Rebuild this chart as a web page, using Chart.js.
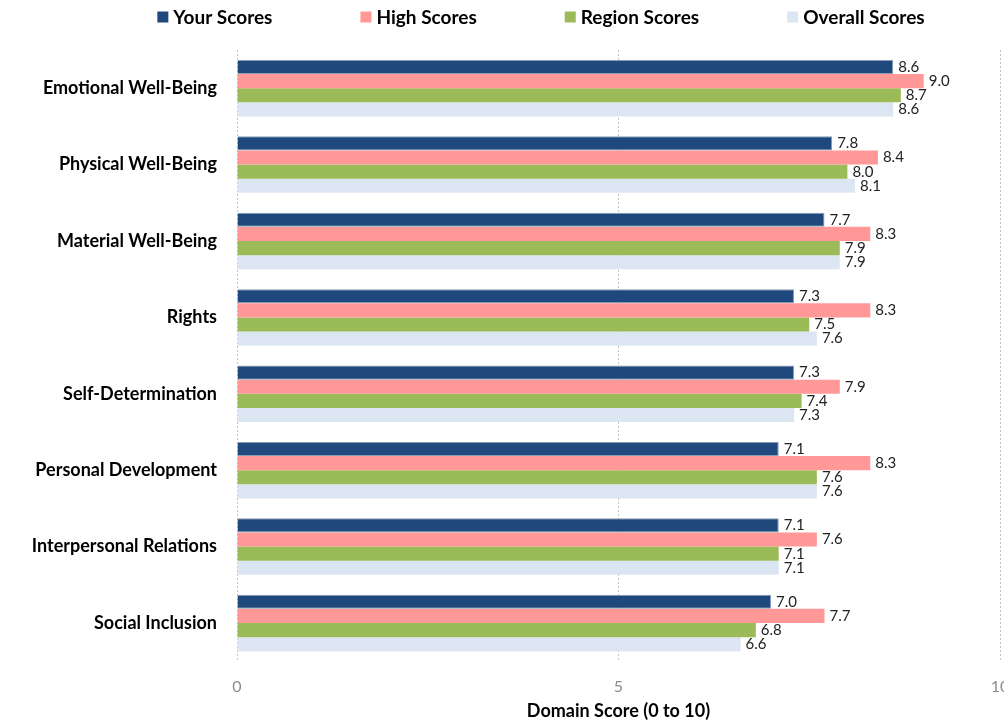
<!DOCTYPE html>
<html>
<head>
<meta charset="utf-8">
<script src="https://cdn.jsdelivr.net/npm/chart.js@4/dist/chart.umd.min.js"></script>
<style>
  html, body { margin: 0; padding: 0; background: #fff; }
  #wrap { width: 1004px; height: 722px; }
</style>
</head>
<body>
<div id="wrap"><canvas id="chart" width="1004" height="722"></canvas></div>
<script>
const domains = ['Emotional Well-Being', 'Physical Well-Being', 'Material Well-Being', 'Rights',
  'Self-Determination', 'Personal Development', 'Interpersonal Relations', 'Social Inclusion'];
const yourScores = [8.6, 7.8, 7.7, 7.3, 7.3, 7.1, 7.1, 7.0];
const highScores = [9.0, 8.4, 8.3, 8.3, 7.9, 8.3, 7.6, 7.7];
const regionScores = [8.7, 8.0, 7.9, 7.5, 7.4, 7.6, 7.1, 6.8];
const overallScores = [8.6, 8.1, 7.9, 7.6, 7.3, 7.6, 7.1, 6.6];
const xTicks = [0, 5, 10];

const FONT = "Lato, 'Open Sans', sans-serif";

// value labels just past the end of each bar
const barLabels = {
  id: 'barLabels',
  afterDatasetsDraw(chart) {
    const ctx = chart.ctx;
    ctx.save();
    ctx.font = '15px ' + FONT;
    ctx.fillStyle = '#222';
    ctx.textBaseline = 'middle';
    ctx.textAlign = 'left';
    chart.data.datasets.forEach((ds, i) => {
      chart.getDatasetMeta(i).data.forEach((bar, j) => {
        ctx.fillText(ds.data[j].toFixed(1), bar.x + 5, bar.y);
      });
    });
    ctx.restore();
  }
};

// legend row across the top, wide gaps between items
const topLegend = {
  id: 'topLegend',
  afterDraw(chart) {
    const ctx = chart.ctx;
    const box = 11, gap = 5, spacing = 88, y = 17;
    ctx.save();
    ctx.font = 'bold 19px ' + FONT;
    ctx.textBaseline = 'middle';
    const items = chart.data.datasets.map(ds => ({ ds, w: ctx.measureText(ds.label).width }));
    const total = items.reduce((a, it) => a + box + gap + it.w, 0) + spacing * (items.length - 1);
    let x = 541 - total / 2;
    items.forEach(it => {
      ctx.fillStyle = it.ds.backgroundColor;
      ctx.fillRect(x, y - box / 2, box, box);
      ctx.fillStyle = '#000';
      ctx.fillText(it.ds.label, x + box + gap, y + 1);
      x += box + gap + it.w + spacing;
    });
    ctx.restore();
  }
};

new Chart(document.getElementById('chart'), {
  type: 'bar',
  data: {
    labels: domains,
    datasets: [
      { label: 'Your Scores', data: yourScores, backgroundColor: '#1f497d', borderColor: '#8a9bb5', borderWidth: { top: 1, right: 1, bottom: 1, left: 0 } },
      { label: 'High Scores', data: highScores, backgroundColor: '#ff9896' },
      { label: 'Region Scores', data: regionScores, backgroundColor: '#9bbb59' },
      { label: 'Overall Scores', data: overallScores, backgroundColor: '#dce6f2' }
    ]
  },
  options: {
    indexAxis: 'y',
    responsive: false,
    animation: false,
    layout: { padding: { left: 0, right: 4, top: 50, bottom: 0 } },
    datasets: { bar: { categoryPercentage: 0.74, barPercentage: 1.0 } },
    plugins: {
      legend: { display: false },
      tooltip: { enabled: false }
    },
    scales: {
      x: {
        min: 0, max: 10,
        afterBuildTicks: (s) => { s.ticks = xTicks.map(v => ({ value: v })); },
        afterFit: (s) => { s.paddingLeft = 0; s.paddingRight = 0; },
        grid: { color: '#c4c4c4', drawTicks: false },
        border: { display: false, dash: [2, 2] },
        ticks: { color: '#8c8c8c', padding: 16, font: { family: FONT, size: 16 } },
        title: { display: true, text: 'Domain Score (0 to 10)', color: '#000', padding: { top: -12, bottom: 0 },
          font: { family: FONT, size: 18, weight: 'bold' } }
      },
      y: {
        afterFit: (s) => { s.width = 237; },
        grid: { display: false },
        border: { display: false },
        ticks: { color: '#000', padding: 12, font: { family: FONT, size: 18, weight: 'bold' } }
      }
    }
  },
  plugins: [barLabels, topLegend, {
    id: 'dashGrid',
    beforeDraw(chart) { chart.scales.x.options.grid.borderDash = [2, 2]; }
  }]
});
</script>
</body>
</html>
